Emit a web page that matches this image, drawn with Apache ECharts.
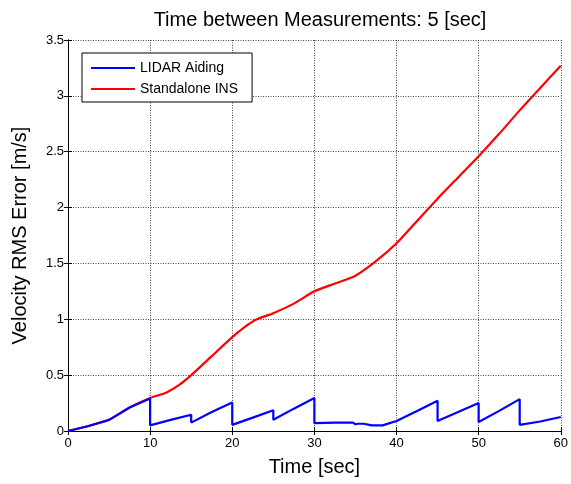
<!DOCTYPE html>
<html>
<head>
    <meta charset="utf-8">
    <title>Velocity RMS Error</title>
    <script src="https://cdn.jsdelivr.net/npm/echarts@6/dist/echarts.min.js"></script>
    <style>
        html, body { margin: 0; padding: 0; background: #fff; }
        #main { width: 571px; height: 484px; }
    </style>
</head>
<body>
<div id="main"></div>
<script>
    // data
    var lidarTime = [0, 2.5, 5, 7.5, 10, 10, 12.5, 15, 15, 17.5, 20, 20, 22.5, 25, 25, 27.5, 30, 30, 32.5, 34.7, 35, 35.3, 36, 37, 38.3, 40, 42.5, 45, 45, 47.5, 50, 50, 52.5, 55, 55, 57.5, 60];
    var lidarRms  = [0, 0.045, 0.1, 0.21, 0.29, 0.05, 0.1, 0.145, 0.075, 0.17, 0.255, 0.055, 0.12, 0.185, 0.1, 0.2, 0.295, 0.07, 0.075, 0.075, 0.06, 0.065, 0.065, 0.05, 0.05, 0.09, 0.18, 0.27, 0.09, 0.17, 0.25, 0.08, 0.18, 0.285, 0.055, 0.085, 0.125];
    var insTime = [0, 2.5, 5, 7.5, 10, 12, 13.5, 15, 17.5, 20, 21.5, 23, 25, 27.5, 30, 32.5, 35, 37.5, 40, 42.5, 45, 47.5, 50, 52.5, 55, 57.5, 60];
    var insRms  = [0, 0.045, 0.1, 0.21, 0.295, 0.345, 0.41, 0.5, 0.67, 0.84, 0.93, 1.0, 1.055, 1.14, 1.25, 1.32, 1.39, 1.52, 1.68, 1.88, 2.08, 2.27, 2.46, 2.66, 2.87, 3.07, 3.27];
    var xTicks = [0, 10, 20, 30, 40, 50, 60];
    var yTicks = [0, 0.5, 1, 1.5, 2, 2.5, 3, 3.5];

    function pairs(xs, ys) {
        return xs.map(function (x, i) { return [x, ys[i]]; });
    }

    var font = 'Liberation Sans, Arial, sans-serif';
    var chart = echarts.init(document.getElementById('main'));

    var boxAxis = {
        axisLine: { show: true, lineStyle: { color: '#000', width: 1 } },
        axisTick: { show: true, inside: true, length: 4, lineStyle: { color: '#000' } },
        axisLabel: { show: false },
        splitLine: { show: false }
    };

    chart.setOption({
        animation: false,
        title: {
            text: 'Time between Measurements: 5 [sec]',
            left: 315, top: 5, textAlign: 'center',
            textStyle: { fontFamily: font, fontSize: 20, fontWeight: 'normal', color: '#000' }
        },
        legend: {
            orient: 'vertical',
            left: 82, top: 53,
            padding: [8, 14, 6, 9],
            itemGap: 7,
            itemWidth: 44, itemHeight: 2,
            icon: 'rect',
            borderColor: '#000', borderWidth: 1,
            backgroundColor: '#fff',
            textStyle: { fontFamily: font, fontSize: 14, color: '#000' },
            data: ['LIDAR Aiding', 'Standalone INS']
        },
        grid: { left: 68, right: 10, top: 40, bottom: 53 },
        xAxis: [{
            type: 'value', min: xTicks[0], max: xTicks[xTicks.length - 1], interval: 10,
            name: 'Time [sec]', nameLocation: 'middle', nameGap: 26,
            nameTextStyle: { fontFamily: font, fontSize: 20, color: '#000' },
            axisLine: { show: true, onZero: false, lineStyle: { color: '#000', width: 1 } },
            axisTick: { show: true, inside: true, length: 4, lineStyle: { color: '#000' } },
            axisLabel: { fontFamily: font, fontSize: 13, color: '#000', margin: 6 },
            splitLine: { show: true, lineStyle: { color: '#444', type: [1, 1.5], width: 1 } }
        }, Object.assign({
            type: 'value', position: 'top', min: 0, max: 60, interval: 10
        }, boxAxis)],
        yAxis: [{
            type: 'value', min: yTicks[0], max: yTicks[yTicks.length - 1], interval: 0.5,
            name: 'Velocity RMS Error [m/s]', nameLocation: 'middle', nameGap: 38,
            nameTextStyle: { fontFamily: font, fontSize: 20, color: '#000' },
            axisLine: { show: true, onZero: false, lineStyle: { color: '#000', width: 1 } },
            axisTick: { show: true, inside: true, length: 4, lineStyle: { color: '#000' } },
            axisLabel: { fontFamily: font, fontSize: 13, color: '#000', margin: 4 },
            splitLine: { show: true, lineStyle: { color: '#444', type: [1, 1.5], width: 1 } }
        }, Object.assign({
            type: 'value', position: 'right', min: 0, max: 3.5, interval: 0.5
        }, boxAxis)],
        series: [{
            name: 'LIDAR Aiding', type: 'line',
            data: pairs(lidarTime, lidarRms),
            showSymbol: false, symbol: 'none',
            lineStyle: { color: '#0000ff', width: 2.2 },
            itemStyle: { color: '#0000ff' },
            z: 3
        }, {
            name: 'Standalone INS', type: 'line',
            data: pairs(insTime, insRms),
            showSymbol: false, symbol: 'none', smooth: 0.2,
            lineStyle: { color: '#ff0000', width: 2.2 },
            itemStyle: { color: '#ff0000' },
            z: 2
        }]
    });
</script>
</body>
</html>
